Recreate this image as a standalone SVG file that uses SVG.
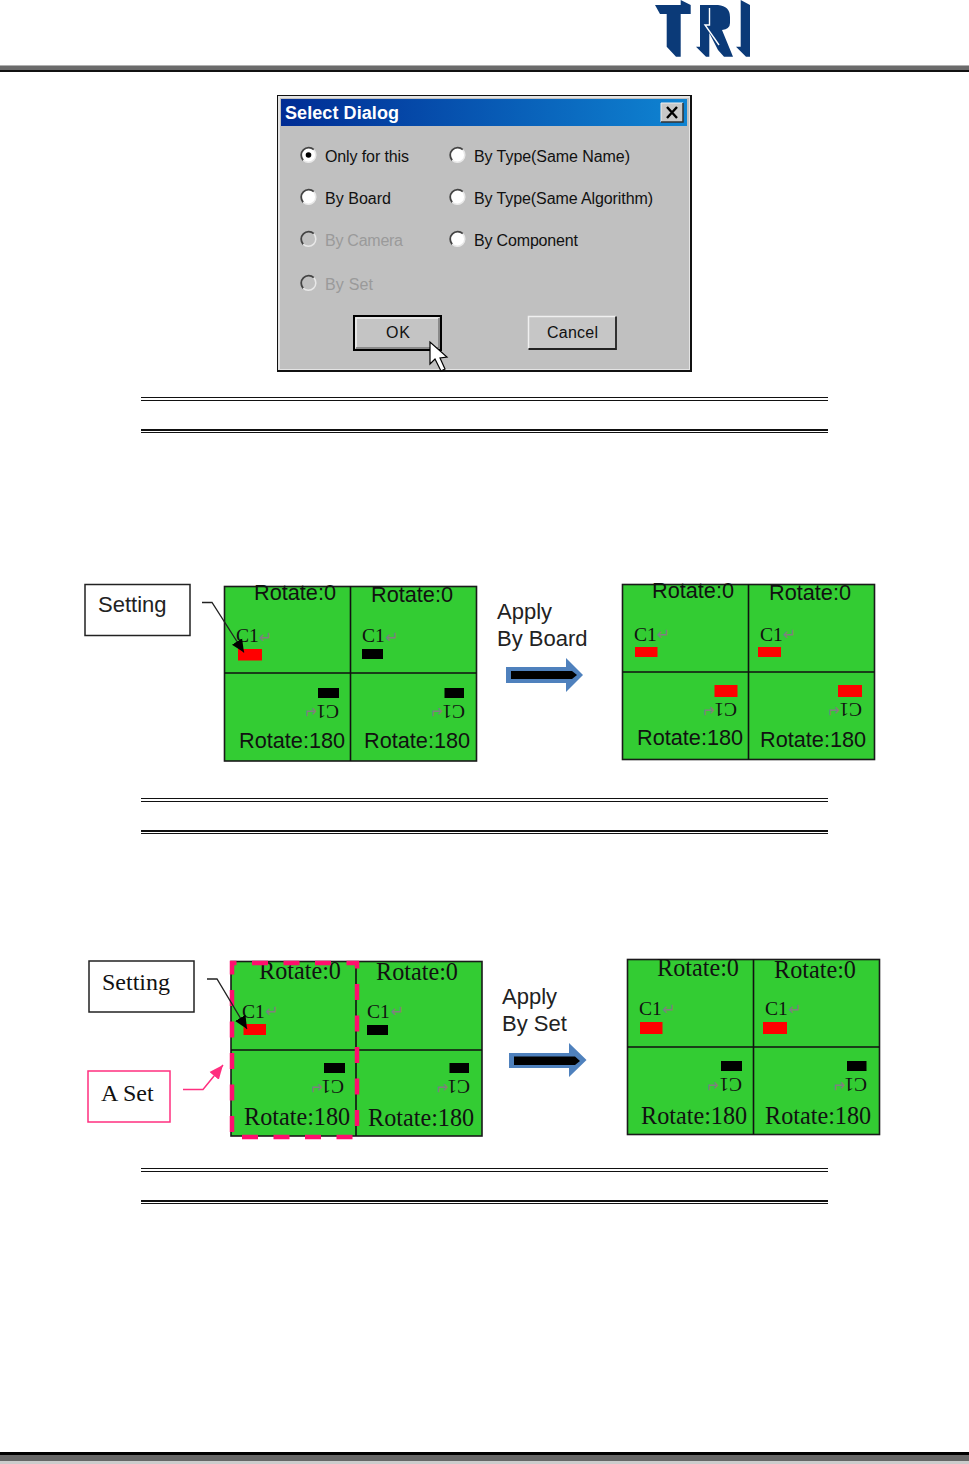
<svg xmlns="http://www.w3.org/2000/svg" width="969" height="1464" viewBox="0 0 969 1464">
<style>
text{font-family:"Liberation Sans",Arial,sans-serif}
.grid{fill:#33cc33;stroke:#1a1a1a;stroke-width:1.6}
.div{stroke:#111;stroke-width:1.6;fill:none}
.rs{font-size:21.7px;fill:#111}
.rf{font-family:"Liberation Serif",serif;font-size:24.2px;fill:#111}
.c1{font-family:"Liberation Serif",serif;font-size:19.5px;fill:#111}
.ret{font-family:"DejaVu Sans",sans-serif;font-size:16px;text-anchor:middle;fill:#808080}
.lbl{font-size:22px;fill:#222}
.lblf{font-family:"Liberation Serif",serif;font-size:24px;fill:#111}
.dlg{font-size:16px;fill:#111}
.dis{font-size:16px;fill:#9a9a9a}
.box{fill:#fff;stroke:#222;stroke-width:1.5}
.sep{fill:#111}
.red{fill:#ff0000}
.blk{fill:#000}
</style>
<defs>
<linearGradient id="tb" x1="0" x2="1" y1="0" y2="0"><stop offset="0" stop-color="#002c94"/><stop offset="1" stop-color="#0f84d2"/></linearGradient>
<marker id="ah" markerWidth="13" markerHeight="13" refX="13" refY="6" orient="auto" markerUnits="userSpaceOnUse" viewBox="0 0 13 12"><path d="M0 0L13 6L0 12Z" fill="#000"/></marker>
<marker id="ahp" markerWidth="14" markerHeight="13" refX="14" refY="6" orient="auto" markerUnits="userSpaceOnUse" viewBox="0 0 14 12"><path d="M0 0L14 6L0 12Z" fill="#ff2f7f"/></marker>
<g id="rb"><circle r="7.500" fill="#fff"/><path d="M-5.300 5.300A7.500 7.500 0 0 1 5.300 -5.300" fill="none" stroke="#444" stroke-width="1.800"/><path d="M5.300 -5.300A7.500 7.500 0 0 1 -5.300 5.300" fill="none" stroke="#e8e8e8" stroke-width="1.500"/></g>
<g id="rbd"><circle r="7.500" fill="#c0c0c0"/><path d="M-5.300 5.300A7.500 7.500 0 0 1 5.300 -5.300" fill="none" stroke="#444" stroke-width="1.800"/><path d="M5.300 -5.300A7.500 7.500 0 0 1 -5.300 5.300" fill="none" stroke="#e8e8e8" stroke-width="1.500"/></g>
</defs>
<rect width="969" height="1464" fill="#fff"/>

<g id="header">
<rect x="0" y="65" width="969" height="1" fill="#b0b0b0"/><rect x="0" y="66" width="969" height="4" fill="#6b6b6b"/><rect x="0" y="70" width="969" height="2" fill="#111"/>
<path fill="#0b3a78" d="M655 5H680.700V0L690.700 5V14H680.700V56.700H676L666.700 46.700V14H660Z"/>
<path fill="#0b3a78" d="M700 5H718Q730 6 730 17V23Q730 29 722 30L733 56.700H724L718 50L709.300 33V56.700H706L696 46.700H700Z"/>
<path fill="none" stroke="#fff" stroke-width="1.400" d="M709.500 8V25H705L719 45"/>
<path fill="#0b3a78" d="M740.700 0L750 5V56.700H746L736 46.700H740.700Z"/>
</g>

<g id="dialog">
<rect x="277" y="95" width="415" height="277" fill="#111"/>
<rect x="278" y="96" width="412" height="274" fill="#e4e4e4"/>
<rect x="280" y="98" width="409" height="271" fill="#c0c0c0"/>
<rect x="281" y="99" width="406" height="27" fill="url(#tb)"/>
<text x="285" y="119" font-size="18" font-weight="bold" fill="#fff" textLength="114">Select Dialog</text>
<rect x="661" y="103" width="22" height="19" fill="#c8c8c8"/><path d="M661 122V103H683" fill="none" stroke="#eee"/><path d="M683 103V122H661" fill="none" stroke="#333" stroke-width="1.500"/>
<path d="M667 107L677 118M677 107L667 118" stroke="#000" stroke-width="2.400"/>
<g id="opt1"><use href="#rb" x="308.500" y="155"/><circle cx="308.500" cy="155" r="2.800" fill="#000"/><text class="dlg" x="325" y="162" textLength="84">Only for this</text></g>
<g id="opt2"><use href="#rb" x="308.500" y="197"/><text class="dlg" x="325" y="204" textLength="66">By Board</text></g>
<g id="opt3"><use href="#rbd" x="308.500" y="239"/><text class="dis" x="325" y="246" textLength="78">By Camera</text></g>
<g id="opt4"><use href="#rbd" x="308.500" y="283"/><text class="dis" x="325" y="290" textLength="48">By Set</text></g>
<g id="opt5"><use href="#rb" x="457.500" y="155"/><text class="dlg" x="474" y="162" textLength="156">By Type(Same Name)</text></g>
<g id="opt6"><use href="#rb" x="457.500" y="197"/><text class="dlg" x="474" y="204" textLength="179">By Type(Same Algorithm)</text></g>
<g id="opt7"><use href="#rb" x="457.500" y="239"/><text class="dlg" x="474" y="246" textLength="104">By Component</text></g>
<g id="ok"><rect x="354" y="316" width="87" height="34" fill="#c4c4c4" stroke="#000" stroke-width="2"/><path d="M356 348V318H439" fill="none" stroke="#f0f0f0" stroke-width="1.500"/><path d="M439 318V348H356" fill="none" stroke="#777" stroke-width="1.500"/><text class="dlg" x="386" y="338" textLength="24">OK</text></g>
<g id="cancel"><rect x="528" y="316" width="88" height="33" fill="#c6c6c6"/><path d="M528.500 349V316.500H616" fill="none" stroke="#f0f0f0" stroke-width="1.500"/><path d="M616 316.500V349H528.500" fill="none" stroke="#222" stroke-width="1.800"/><text class="dlg" x="547" y="338" textLength="51">Cancel</text></g>
<path id="cursor" d="M430 342V364L435 359L441 371L445 369L440 358L447 357Z" fill="#fff" stroke="#000" stroke-width="1.200"/>
</g>

<g id="separators">
<rect class="sep" x="141" y="397" width="687" height="1"/><rect class="sep" x="141" y="400" width="687" height="1"/>
<rect class="sep" x="141" y="429" width="687" height="2"/><rect class="sep" x="141" y="432" width="687" height="1"/>
<rect class="sep" x="141" y="798" width="687" height="1"/><rect class="sep" x="141" y="801" width="687" height="1"/>
<rect class="sep" x="141" y="830" width="687" height="2"/><rect class="sep" x="141" y="833" width="687" height="1"/>
<rect class="sep" x="141" y="1168" width="687" height="1"/><rect class="sep" x="141" y="1171" width="687" height="1"/>
<rect class="sep" x="141" y="1200" width="687" height="2"/><rect class="sep" x="141" y="1203" width="687" height="1"/>
</g>

<g id="setting1"><rect class="box" x="85" y="584.500" width="105" height="51"/><text class="lbl" x="98" y="612">Setting</text></g>
<g id="setting2"><rect class="box" x="89" y="961" width="105" height="51"/><text class="lblf" x="102" y="990">Setting</text></g>
<g id="aset"><rect x="88" y="1071" width="82" height="51" fill="#fff" stroke="#ff2f7f" stroke-width="1.500"/><text class="lblf" x="101" y="1101">A Set</text></g>

<g id="panel1">
<rect class="grid" x="224.500" y="586.500" width="252" height="174.500"/>
<path class="div" d="M350.500 586.500V761M224.500 673H476.500"/>
<text class="rs" x="254" y="600">Rotate:0</text><text class="rs" x="371" y="602">Rotate:0</text>
<text class="c1" x="236" y="642">C1</text><text class="ret" x="265.500" y="642.500">↵</text>
<text class="c1" x="362" y="642">C1</text><text class="ret" x="392" y="642.500">↵</text>
<rect class="red" x="238" y="649" width="24" height="11.500"/><rect class="blk" x="362" y="649" width="21" height="10"/>
<rect class="blk" x="318" y="688" width="21" height="10"/><rect class="blk" x="444.500" y="688" width="19.500" height="10"/>
<text class="c1" transform="rotate(180 328 712)" x="317" y="719">C1</text><text class="ret" transform="rotate(180 310 711)" x="310" y="716.500">↵</text>
<text class="c1" transform="rotate(180 454 712)" x="443" y="719">C1</text><text class="ret" transform="rotate(180 436 711)" x="436" y="716.500">↵</text>
<text class="rs" x="239" y="748">Rotate:180</text><text class="rs" x="364" y="748">Rotate:180</text>
</g>

<g id="apply1"><text class="lbl" x="497" y="619">Apply</text><text class="lbl" x="497" y="646">By Board</text>
<path d="M506 667H566V658L583 675L566 692V683H506Z" fill="#4f81bd"/><path d="M511 671H572L577 675L572 679H511Z" fill="#000"/></g>

<g id="panel2">
<rect class="grid" x="622.500" y="584.500" width="252" height="175"/>
<path class="div" d="M748.500 584.500V759.500M622.500 672H874.500"/>
<text class="rs" x="652" y="598">Rotate:0</text><text class="rs" x="769" y="600">Rotate:0</text>
<text class="c1" x="634" y="641">C1</text><text class="ret" x="663.500" y="640">↵</text>
<text class="c1" x="760" y="641">C1</text><text class="ret" x="789.500" y="640">↵</text>
<rect class="red" x="635" y="647" width="22.500" height="10"/><rect class="red" x="758" y="647" width="23" height="10"/>
<rect class="red" x="714.500" y="685" width="23" height="12"/><rect class="red" x="838" y="685" width="24" height="12"/>
<text class="c1" transform="rotate(180 726 710)" x="715" y="717">C1</text><text class="ret" transform="rotate(180 708 710)" x="708" y="715.500">↵</text>
<text class="c1" transform="rotate(180 851 710)" x="840" y="717">C1</text><text class="ret" transform="rotate(180 833 710)" x="833" y="715.500">↵</text>
<text class="rs" x="637" y="745">Rotate:180</text><text class="rs" x="760" y="747">Rotate:180</text>
</g>

<g id="panel3">
<rect class="grid" x="231" y="961.500" width="251" height="174.500"/>
<path class="div" d="M356 961.500V1136M231 1050H482"/>
<text class="rf" x="259" y="979">Rotate:0</text><text class="rf" x="376" y="980">Rotate:0</text>
<text class="c1" x="242" y="1018">C1</text><text class="ret" x="272" y="1017">↵</text>
<text class="c1" x="367" y="1018">C1</text><text class="ret" x="397.500" y="1017">↵</text>
<rect class="red" x="243.500" y="1024" width="22.500" height="11"/><rect class="blk" x="367" y="1025" width="21" height="10"/>
<rect class="blk" x="324" y="1063" width="21" height="10"/><rect class="blk" x="449.500" y="1063" width="19.500" height="10"/>
<text class="c1" transform="rotate(180 333 1087)" x="322" y="1094">C1</text><text class="ret" transform="rotate(180 316 1087)" x="316" y="1092.500">↵</text>
<text class="c1" transform="rotate(180 459 1087)" x="448" y="1094">C1</text><text class="ret" transform="rotate(180 441.500 1087)" x="441.500" y="1092.500">↵</text>
<text class="rf" x="244" y="1125">Rotate:180</text><text class="rf" x="368" y="1126">Rotate:180</text>
</g>
<path id="set-outline" d="M242 1137H357V963H232V1137" fill="none" stroke="#ff0f6e" stroke-width="4.500" stroke-dasharray="16 15.500"/>

<g id="apply2"><text class="lbl" x="502" y="1004">Apply</text><text class="lbl" x="502" y="1031">By Set</text>
<path d="M509 1053H569V1043L586.500 1060L569 1077V1068H509Z" fill="#4f81bd"/><path d="M514 1056.500H575L580 1061L575 1065H514Z" fill="#000"/></g>

<g id="panel4">
<rect class="grid" x="627.500" y="959.500" width="252" height="175"/>
<path class="div" d="M753.500 959.500V1134.500M627.500 1047H879.500"/>
<text class="rf" x="657" y="976">Rotate:0</text><text class="rf" x="774" y="978">Rotate:0</text>
<text class="c1" x="639" y="1015">C1</text><text class="ret" x="669" y="1015">↵</text>
<text class="c1" x="765" y="1015">C1</text><text class="ret" x="795" y="1015">↵</text>
<rect class="red" x="640" y="1022" width="22.500" height="12"/><rect class="red" x="763" y="1022" width="24" height="12"/>
<rect class="blk" x="721" y="1061" width="21" height="10"/><rect class="blk" x="847" y="1061" width="19.500" height="10"/>
<text class="c1" transform="rotate(180 731 1085)" x="720" y="1092">C1</text><text class="ret" transform="rotate(180 712 1085)" x="712" y="1090.500">↵</text>
<text class="c1" transform="rotate(180 856 1085)" x="845" y="1092">C1</text><text class="ret" transform="rotate(180 838.500 1085)" x="838.500" y="1090.500">↵</text>
<text class="rf" x="641" y="1124">Rotate:180</text><text class="rf" x="765" y="1124">Rotate:180</text>
</g>

<g id="connectors">
<path d="M202 602.500H212L244 652.500" fill="none" stroke="#222" stroke-width="1.300" marker-end="url(#ah)"/>
<path d="M207 979H217L247 1029" fill="none" stroke="#222" stroke-width="1.300" marker-end="url(#ah)"/>
<path d="M183 1089.500H203L223 1065" fill="none" stroke="#ff2f7f" stroke-width="1.500" marker-end="url(#ahp)"/>
</g>

<g id="footer"><rect x="0" y="1452" width="969" height="3" fill="#000"/><rect x="0" y="1455" width="969" height="6" fill="#666"/><rect x="0" y="1461" width="969" height="3" fill="#ccc"/></g>
</svg>
